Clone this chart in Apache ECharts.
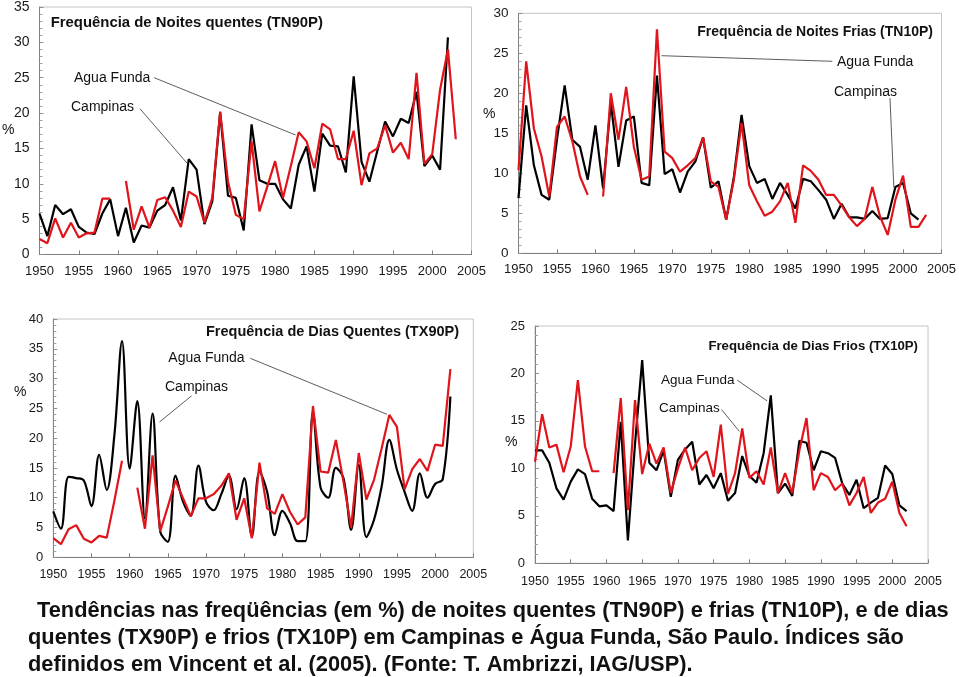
<!DOCTYPE html>
<html>
<head>
<meta charset="utf-8">
<script src="https://cdn.jsdelivr.net/npm/echarts@6/dist/echarts.min.js"></script>
<style>
html,body{margin:0;padding:0;background:#fff;}
#c{width:959px;height:677px;}
</style>
</head>
<body>
<div id="c"></div>
<script>
// ---- data ----
const years = [1950,1951,1952,1953,1954,1955,1956,1957,1958,1959,
               1960,1961,1962,1963,1964,1965,1966,1967,1968,1969,
               1970,1971,1972,1973,1974,1975,1976,1977,1978,1979,
               1980,1981,1982,1983,1984,1985,1986,1987,1988,1989,
               1990,1991,1992,1993,1994,1995,1996,1997,1998,1999,
               2000,2001,2002,2003];
const xTickLabels = [1950,1955,1960,1965,1970,1975,1980,1985,1990,1995,2000,2005];

// Frequência de Noites quentes (TN90P)
const tn90pBlack = [5.8,2.6,7.0,5.7,6.4,3.9,3.1,2.9,5.8,7.8,
                    2.6,6.6,1.7,4.1,3.8,6.2,7.0,9.5,4.8,13.5,
                    12.0,4.3,7.5,20.1,8.3,8.0,3.4,18.4,10.5,10.0,
                    10.0,7.8,6.5,12.7,15.3,8.9,17.1,15.4,15.3,11.6,
                    25.2,13.1,10.3,14.6,18.8,16.7,19.2,18.6,23.0,12.5,
                    14.0,12.0,30.7,null];
const tn90pRed = [2.2,1.6,5.1,2.4,4.5,2.4,3.0,3.1,7.9,7.9,
                  null,10.4,3.5,6.8,3.8,7.7,8.1,6.2,3.9,8.9,
                  8.2,4.5,8.0,20.2,10.3,5.6,5.0,16.0,6.1,9.6,
                  13.2,8.0,12.5,17.3,16.0,12.2,18.5,17.7,13.5,13.5,
                  17.5,9.8,14.3,15.0,18.3,14.4,15.8,13.5,25.7,12.8,
                  14.2,23.3,29.0,16.3];

// Frequência de Noites Frias (TN10P)
const tn10pBlack = [6.9,18.5,11.0,7.3,6.7,14.2,21.0,14.2,13.3,9.2,
                    16.0,8.1,18.8,10.8,16.6,17.1,8.8,8.5,22.2,9.9,
                    10.5,7.6,10.2,11.5,14.5,8.2,9.0,4.2,9.5,17.3,
                    10.9,8.8,9.3,6.8,8.8,7.3,5.6,9.3,9.0,7.9,
                    6.7,4.3,6.2,4.5,4.5,4.3,5.3,4.3,4.4,8.3,
                    8.8,5.0,4.2,null];
const tn10pRed = [10.4,24.0,15.6,12.1,7.1,15.8,17.1,14.0,9.6,7.3,
                  null,7.1,20.0,14.2,20.8,13.3,9.2,9.6,28.0,12.7,
                  11.9,10.2,11.0,11.9,14.5,9.0,8.3,4.2,9.2,16.3,
                  8.5,6.5,4.7,5.2,6.5,8.8,3.8,11.0,10.3,9.2,
                  7.3,7.3,6.0,4.5,3.4,4.3,8.3,4.6,2.3,6.7,
                  9.7,3.3,3.3,4.8];

// Frequência de Dias Quentes (TX90P)
const tx90pBlack = [7.7,4.8,13.5,13.3,12.9,8.6,17.2,11.3,20.5,36.3,
                    14.9,26.2,6.5,24.1,4.3,2.6,13.7,9.3,7.0,15.4,
                    9.3,7.9,10.6,13.7,8.1,13.3,3.5,14.4,11.0,3.7,
                    7.8,5.7,2.7,2.7,24.4,11.7,10.0,15.0,13.3,4.6,
                    15.5,3.4,6.3,11.9,19.7,14.7,11.0,7.8,14.1,10.0,
                    12.3,13.1,27.0,null];
const tx90pRed = [3.2,2.2,4.7,5.4,3.1,2.5,3.6,3.3,9.5,16.2,
                  null,11.7,4.8,17.1,4.4,8.5,12.9,9.9,6.9,9.9,
                  9.9,10.6,12.0,14.1,6.3,9.9,3.2,15.9,8.2,7.3,
                  10.6,7.6,5.5,6.7,25.4,14.4,14.2,19.7,12.7,5.0,
                  17.5,9.7,13.0,18.3,23.9,21.9,11.4,14.8,16.5,14.5,
                  18.9,18.7,31.6,null];

// Frequência de Dias Frios (TX10P)
const tx10pBlack = [11.9,11.9,10.6,7.9,6.7,8.6,9.9,9.4,6.8,6.0,
                    6.1,5.5,14.9,2.4,12.6,21.4,10.6,9.8,11.9,7.0,
                    10.9,12.0,12.8,8.3,9.3,7.9,9.5,6.6,7.4,11.3,
                    9.2,8.5,11.6,17.7,7.4,8.4,7.1,12.9,12.7,9.8,
                    11.8,11.6,11.1,8.4,7.2,8.8,5.8,6.4,6.9,10.3,
                    9.4,6.1,5.5,null];
const tx10pRed = [10.7,15.7,12.2,12.5,9.6,12.3,19.3,12.3,9.7,9.7,
                  null,9.5,17.4,5.6,17.2,9.4,12.6,10.5,12.2,7.4,
                  10.0,12.2,9.8,11.1,11.8,9.1,14.6,7.3,9.5,14.2,
                  9.0,9.7,8.3,12.2,7.4,9.5,7.4,11.9,15.3,7.7,
                  9.5,9.1,7.7,8.4,6.1,7.4,9.1,5.3,6.4,6.8,
                  8.6,5.3,3.9,null];

const panelTitles = ['Frequência de Noites quentes (TN90P)','Frequência de Noites Frias (TN10P)',
                     'Frequência de Dias Quentes (TX90P)','Frequência de Dias Frios (TX10P)'];
const captionLines = ['Tendências nas freqüências (em %) de noites quentes (TN90P) e frias (TN10P), e de dias',
                      'quentes (TX90P) e frios (TX10P) em Campinas e Água Funda, São Paulo. Índices são',
                      'definidos em Vincent et al. (2005). (Fonte: T. Ambrizzi, IAG/USP).'];

// ---- chart ----
const FONT = "'Liberation Sans', Arial, sans-serif";
const BLACK = '#000000', RED = '#e0141b';
const toPairs = vals => years.map((y, i) => [y, vals[i] == null ? '-' : vals[i]]);

const grids = [
  {left: 39.5, top: 7, width: 432, height: 247.5},
  {left: 518.5, top: 13.3, width: 426.5, height: 240},
  {left: 53.3, top: 319, width: 420, height: 238.3},
  {left: 535, top: 326, width: 393, height: 237.3}
].map(g => Object.assign({show: true, borderColor: '#c4c4c4', borderWidth: 1, backgroundColor: 'transparent'}, g));

const yMax = [35, 30, 40, 25];
const xFont = [13, 13, 12.5, 12.5];
const yFont = [14, 13.5, 13, 13];
const xMargin = [10, 10, 11, 12];

const xAxes = grids.map((g, i) => ({
  type: 'value', gridIndex: i, min: 1950, max: 2005, interval: 5,
  axisLine: {show: true, lineStyle: {color: '#808080', width: 1}},
  axisTick: {show: true, inside: true, length: 4, lineStyle: {color: '#808080'}},
  splitLine: {show: false},
  axisLabel: {color: '#1a1a1a', fontFamily: FONT, fontSize: xFont[i], margin: xMargin[i],
              formatter: v => xTickLabels.indexOf(v) >= 0 ? String(v) : ''}
}));
const yAxes = grids.map((g, i) => ({
  type: 'value', gridIndex: i, min: 0, max: yMax[i], interval: 5,
  axisLine: {show: true, lineStyle: {color: '#808080', width: 1}},
  axisTick: {show: true, inside: true, length: 4, lineStyle: {color: '#909090'}},
  minorTick: {show: true, splitNumber: 5, length: 3, lineStyle: {color: '#a0a0a0'}},
  splitLine: {show: false},
  axisLabel: {color: '#1a1a1a', fontFamily: FONT, fontSize: yFont[i], margin: 10}
}));

function arrow(from, to) {
  return [{coord: from}, {coord: to}];
}
const arrowLines = [
  [arrow([1964.6, 25.0], [1982.6, 16.9]), arrow([1962.8, 20.6], [1968.8, 12.9])],
  [arrow([1990.8, 24.0], [1968.6, 24.7]), arrow([1998.3, 19.4], [1998.8, 8.2])],
  [arrow([1975.8, 33.4], [1993.7, 24.0]), arrow([1968.1, 27.1], [1963.9, 22.7])],
  [arrow([1978.3, 19.3], [1982.5, 17.1]), arrow([1976.1, 16.2], [1978.6, 13.9])]
];

const blackSets = [tn90pBlack, tn10pBlack, tx90pBlack, tx10pBlack];
const redSets = [tn90pRed, tn10pRed, tx90pRed, tx10pRed];
const series = [];
blackSets.forEach((vals, i) => {
  series.push({
    name: 'Campinas', type: 'line', xAxisIndex: i, yAxisIndex: i,
    data: toPairs(vals), showSymbol: false, symbol: 'none', connectNulls: false,
    smooth: i === 2 ? 0.35 : false,
    lineStyle: {color: BLACK, width: 2.2}, itemStyle: {color: BLACK}, z: 2,
    animation: false
  });
});
redSets.forEach((vals, i) => {
  series.push({
    name: 'Agua Funda', type: 'line', xAxisIndex: i, yAxisIndex: i,
    data: toPairs(vals), showSymbol: false, symbol: 'none', connectNulls: false,
    lineStyle: {color: RED, width: 2.2}, itemStyle: {color: RED}, z: 3,
    animation: false,
    markLine: {
      silent: true, symbol: ['none', 'arrow'], symbolSize: [0, 6], animation: false,
      lineStyle: {color: '#333', width: 0.8, type: 'solid'},
      label: {show: false},
      data: arrowLines[i]
    }
  });
});

function txt(x, y, text, opts) {
  opts = opts || {};
  return {type: 'text', silent: true, z: 10, style: Object.assign({
    x: x, y: y, text: text, fill: '#111', textAlign: 'left', textVerticalAlign: 'middle',
    font: (opts.bold ? 'bold ' : '') + (opts.size || 14) + 'px ' + FONT
  }, opts.align ? {textAlign: opts.align} : {})};
}

const graphics = [
  txt(50.7, 23.3, panelTitles[0], {bold: true, size: 14.9}),
  txt(933, 32.3, panelTitles[1], {bold: true, size: 14}),
  txt(206, 331.7, panelTitles[2], {bold: true, size: 14.5}),
  txt(918, 346.7, panelTitles[3], {bold: true, size: 13.2, align: 'right'}),
  txt(74, 77.7, 'Agua Funda'), txt(71, 106.7, 'Campinas'),
  txt(837, 62.3, 'Agua Funda'), txt(834, 91.7, 'Campinas'),
  txt(168.3, 357.7, 'Agua Funda'), txt(165, 386.7, 'Campinas'),
  txt(661, 380, 'Agua Funda', {size: 13.5}), txt(659, 408.3, 'Campinas', {size: 13.5}),
  txt(2, 130, '%'), txt(483, 114.3, '%'), txt(14, 392.3, '%'), txt(505, 441.7, '%'),
  txt(37, 611, captionLines[0], {bold: true, size: 21.8}),
  txt(28, 638, captionLines[1], {bold: true, size: 21.8}),
  txt(28, 665, captionLines[2], {bold: true, size: 21.8})
];
graphics[1].style.textAlign = 'right';

const chart = echarts.init(document.getElementById('c'), null, {renderer: 'canvas'});
chart.setOption({
  animation: false,
  backgroundColor: '#ffffff',
  grid: grids, xAxis: xAxes, yAxis: yAxes, series: series,
  graphic: graphics
});
</script>
</body>
</html>
